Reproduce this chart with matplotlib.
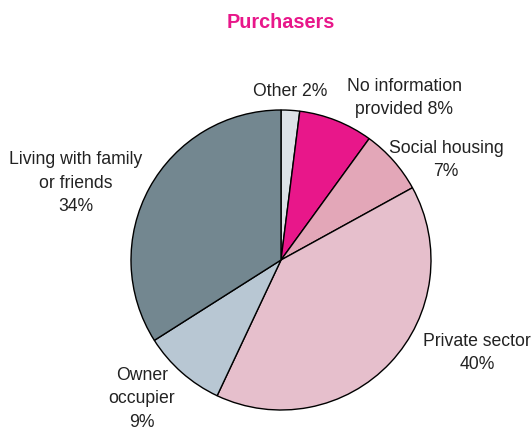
import matplotlib.pyplot as plt

labels = ['Other 2%', 'No information\nprovided 8%', 'Social housing\n7%',
          'Private sector\n40%', 'Owner\noccupier\n9%', 'Living with family\nor friends\n34%']
values = [2, 8, 7, 40, 9, 34]
colors = ['#dde2e7', '#e8178a', '#e3a7b8', '#e6bfcc', '#b8c7d3', '#738790']
# label centres in pixel coords (x, y from top)
label_pos = [(290, 92), (404, 98), (446, 160), (477, 353), (142, 399), (76, 183)]

plt.rcParams['font.family'] = 'Liberation Sans'

fig = plt.figure(figsize=(5.32, 4.31), dpi=100)
ax = fig.add_axes([0, 0, 1, 1])

ax.pie(values, colors=colors, startangle=90, counterclock=False,
       center=(281, 170), radius=150, frame=True,
       wedgeprops={'edgecolor': 'black', 'linewidth': 1})
ax.set_xlim(0, 532)
ax.set_ylim(0, 431)
ax.set_aspect('equal')
ax.axis('off')

for lab, (x, y) in zip(labels, label_pos):
    ax.text(x, 431 - y, lab, ha='center', va='center', fontsize=12.7,
            color='#222222', linespacing=1.5)

ax.text(281, 431 - 22, 'Purchasers', ha='center', va='center', fontsize=14.3,
        fontweight='bold', color='#e8178a')

fig.savefig('out.png', dpi=100)
